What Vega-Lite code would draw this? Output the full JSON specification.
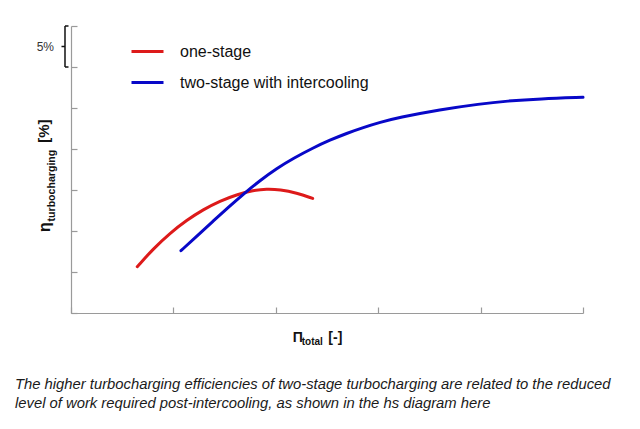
{
  "$schema": "https://vega.github.io/schema/vega-lite/v6.json",
  "width": 512,
  "height": 287,
  "autosize": {"type": "none"},
  "padding": {"left": 71, "top": 26, "right": 57, "bottom": 116},
  "background": "white",
  "config": {
    "view": {"stroke": null},
    "font": "Liberation Sans",
    "axis": {
      "domainColor": "#9a9a9a",
      "tickColor": "#9a9a9a",
      "domainWidth": 1.2,
      "tickWidth": 1.2,
      "tickSize": -6,
      "labels": false,
      "grid": false,
      "title": null
    }
  },
  "encoding": {
    "x": {
      "field": "x",
      "type": "quantitative",
      "scale": {"domain": [0, 5], "nice": false, "zero": false},
      "axis": {"values": [0, 1, 2, 3, 4, 5]}
    },
    "y": {
      "field": "y",
      "type": "quantitative",
      "scale": {"domain": [0, 35], "nice": false, "zero": false},
      "axis": {"values": [0, 5, 10, 15, 20, 25, 30, 35]}
    }
  },
  "layer": [
    {
      "data": {"values": [
        {"series": "one-stage", "x": 0.647, "y": 5.645},
        {"series": "one-stage", "x": 0.804, "y": 7.845},
        {"series": "one-stage", "x": 0.967, "y": 9.74},
        {"series": "one-stage", "x": 1.13, "y": 11.32},
        {"series": "one-stage", "x": 1.292, "y": 12.62},
        {"series": "one-stage", "x": 1.455, "y": 13.66},
        {"series": "one-stage", "x": 1.618, "y": 14.44},
        {"series": "one-stage", "x": 1.78, "y": 14.96},
        {"series": "one-stage", "x": 1.911, "y": 15.13},
        {"series": "one-stage", "x": 2.041, "y": 15.05},
        {"series": "one-stage", "x": 2.204, "y": 14.64},
        {"series": "one-stage", "x": 2.36, "y": 13.97},
        {"series": "two-stage with intercooling", "x": 1.074, "y": 7.6},
        {"series": "two-stage with intercooling", "x": 1.228, "y": 9.37},
        {"series": "two-stage with intercooling", "x": 1.39, "y": 11.23},
        {"series": "two-stage with intercooling", "x": 1.553, "y": 13.07},
        {"series": "two-stage with intercooling", "x": 1.683, "y": 14.5},
        {"series": "two-stage with intercooling", "x": 1.846, "y": 16.16},
        {"series": "two-stage with intercooling", "x": 2.009, "y": 17.63},
        {"series": "two-stage with intercooling", "x": 2.171, "y": 18.86},
        {"series": "two-stage with intercooling", "x": 2.366, "y": 20.15},
        {"series": "two-stage with intercooling", "x": 2.529, "y": 21.09},
        {"series": "two-stage with intercooling", "x": 2.692, "y": 21.91},
        {"series": "two-stage with intercooling", "x": 2.854, "y": 22.62},
        {"series": "two-stage with intercooling", "x": 3.018, "y": 23.25},
        {"series": "two-stage with intercooling", "x": 3.196, "y": 23.83},
        {"series": "two-stage with intercooling", "x": 3.604, "y": 24.8},
        {"series": "two-stage with intercooling", "x": 3.994, "y": 25.5},
        {"series": "two-stage with intercooling", "x": 4.258, "y": 25.85},
        {"series": "two-stage with intercooling", "x": 4.58, "y": 26.13},
        {"series": "two-stage with intercooling", "x": 5.0, "y": 26.3}
      ]},
      "mark": {"type": "line", "strokeWidth": 3, "strokeCap": "round", "interpolate": "basis"},
      "encoding": {
        "color": {
          "field": "series",
          "type": "nominal",
          "scale": {"domain": ["one-stage", "two-stage with intercooling"], "range": ["#dd1a1a", "#0808c8"]},
          "legend": {
            "orient": "none",
            "legendX": 59,
            "legendY": 8,
            "title": null,
            "padding": 0,
            "symbolType": "stroke",
            "symbolSize": 1024,
            "symbolStrokeWidth": 3,
            "rowPadding": 5,
            "labelOffset": 15,
            "labelFontSize": 16,
            "labelColor": "#111",
            "labelLimit": 400
          }
        }
      }
    },
    {
      "data": {"values": [
        {"x": -0.0586, "x2": -0.0586, "y": 35, "y2": 30},
        {"x": -0.0586, "x2": -0.0244, "y": 35, "y2": 35},
        {"x": -0.0586, "x2": -0.0244, "y": 30, "y2": 30},
        {"x": -0.0928, "x2": -0.0586, "y": 32.5, "y2": 32.5}
      ]},
      "mark": {"type": "rule", "color": "#111", "strokeWidth": 1.5},
      "encoding": {
        "x2": {"field": "x2"},
        "y2": {"field": "y2"}
      }
    },
    {
      "data": {"values": [{"x": -0.166, "y": 32.5, "label": "5%"}]},
      "mark": {"type": "text", "align": "right", "baseline": "middle", "fontSize": 12, "color": "#333"},
      "encoding": {"text": {"field": "label"}}
    },
    {
      "data": {"values": [{"x": -0.205, "y": 9.88, "label": "η"}]},
      "mark": {"type": "text", "align": "left", "baseline": "alphabetic", "angle": 270, "fontSize": 16, "fontWeight": "bold", "color": "#111"},
      "encoding": {"text": {"field": "label"}}
    },
    {
      "data": {"values": [{"x": -0.215, "y": 20.75, "label": "[%]"}]},
      "mark": {"type": "text", "align": "left", "baseline": "alphabetic", "angle": 270, "fontSize": 15, "fontWeight": "bold", "color": "#111"},
      "encoding": {"text": {"field": "label"}}
    },
    {
      "data": {"values": [{"x": -0.156, "y": 11.16, "label": "turbocharging"}]},
      "mark": {"type": "text", "align": "left", "baseline": "alphabetic", "angle": 270, "fontSize": 10.6, "fontWeight": "bold", "color": "#111"},
      "encoding": {"text": {"field": "label"}}
    },
    {
      "data": {"values": [
        {"x": 2.165, "y": -3.5, "label": "Π"},
        {"x": 2.513, "y": -3.5, "label": "[-]"}
      ]},
      "mark": {"type": "text", "align": "left", "baseline": "alphabetic", "fontSize": 14, "fontWeight": "bold", "color": "#111"},
      "encoding": {"text": {"field": "label"}}
    },
    {
      "data": {"values": [{"x": 2.253, "y": -3.9, "label": "total"}]},
      "mark": {"type": "text", "align": "left", "baseline": "alphabetic", "fontSize": 10, "fontWeight": "bold", "color": "#111"},
      "encoding": {"text": {"field": "label"}}
    },
    {
      "data": {"values": [
        {"x": -0.547, "y": -9.27, "label": "The higher turbocharging efficiencies of two-stage turbocharging are related to the reduced"},
        {"x": -0.547, "y": -11.585, "label": "level of work required post-intercooling, as shown in the hs diagram here"}
      ]},
      "mark": {"type": "text", "align": "left", "baseline": "alphabetic", "fontSize": 14.8, "fontStyle": "italic", "color": "#1a1a1a"},
      "encoding": {"text": {"field": "label"}}
    }
  ]
}
